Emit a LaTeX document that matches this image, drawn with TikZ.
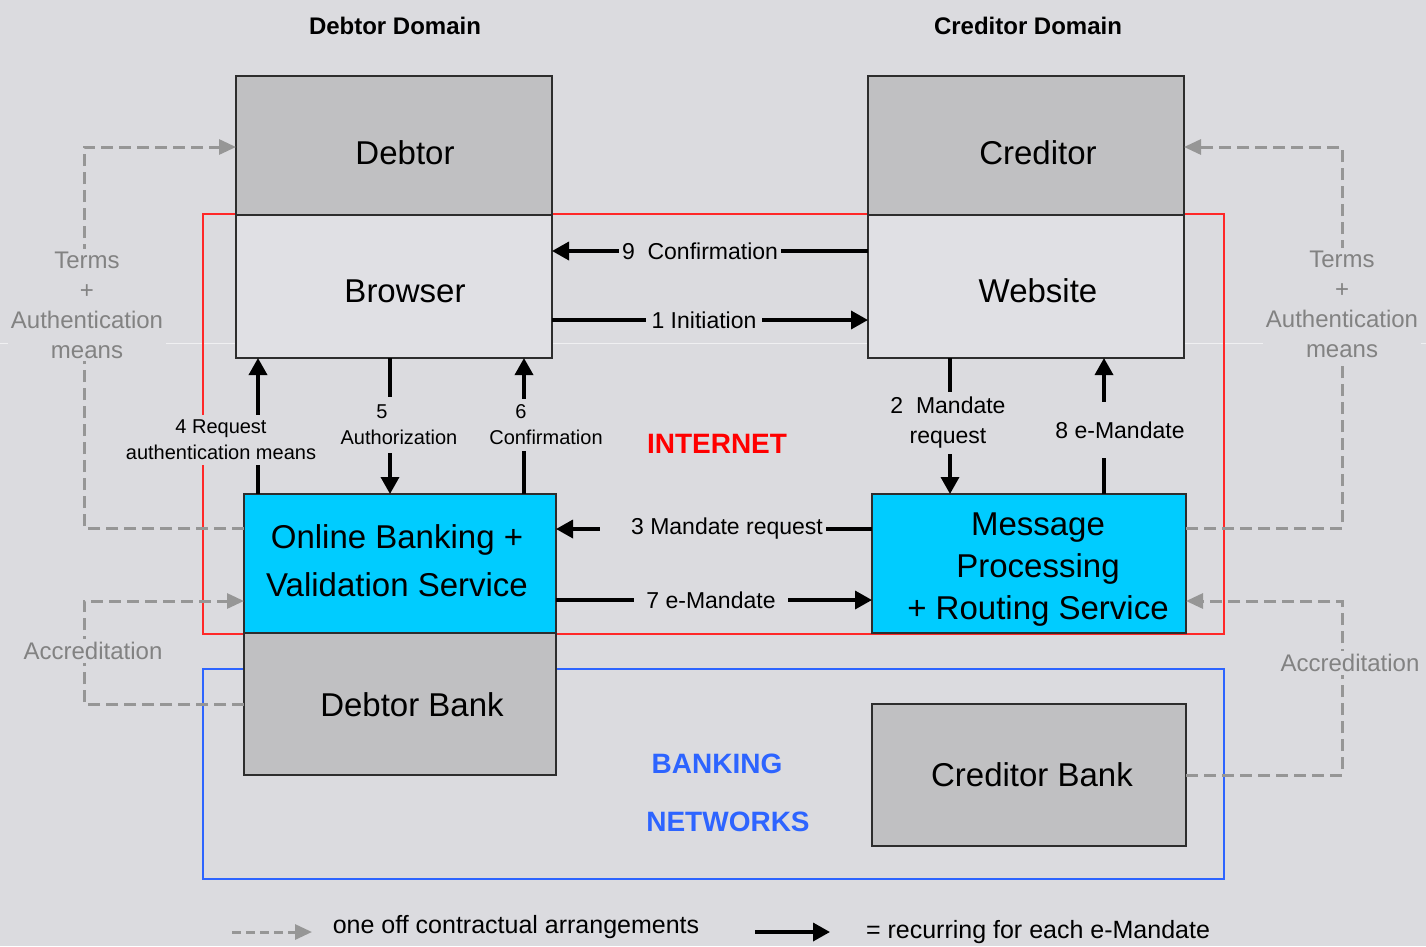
\documentclass[tikz,border=0pt]{standalone}
\usepackage{fontspec}
\setmainfont{Liberation Sans}
\usetikzlibrary{arrows.meta}
\definecolor{bg}{RGB}{219,219,223}
\definecolor{boxgray}{RGB}{192,192,194}
\definecolor{boxlight}{RGB}{224,224,228}
\definecolor{boxline}{RGB}{45,45,45}
\definecolor{cyanbox}{RGB}{0,204,255}
\definecolor{redline}{RGB}{255,40,40}
\definecolor{blueline}{RGB}{45,100,255}
\definecolor{dashgray}{RGB}{150,150,150}
\definecolor{txtgray}{RGB}{130,130,130}
\begin{document}
\begin{tikzpicture}[x=1pt,y=-1pt,
 gbox/.style={draw=boxline,line width=2.5pt,fill=boxgray,inner sep=0pt,outer sep=0pt},
 lbox/.style={gbox,fill=boxlight},
 cbox/.style={gbox,fill=cyanbox},
 bigtxt/.style={font=\fontsize{33}{42}\selectfont,align=center,inner sep=0pt},
 lbl/.style={font=\fontsize{23}{30}\selectfont,fill=bg,inner sep=3pt,align=center},
 smlbl/.style={font=\fontsize{20}{26}\selectfont,fill=bg,inner sep=3pt,align=center},
 grylbl/.style={font=\fontsize{24}{30}\selectfont,text=txtgray,fill=bg,inner sep=3pt,align=center},
 blk/.style={line width=3.5pt,black,-{Triangle[length=17pt,width=18pt]}},
 dsh/.style={line width=3pt,dashgray,dash pattern=on 12pt off 6pt},
 dsharr/.style={dsh,-{Triangle[length=17pt,width=15pt]}},
 hdr/.style={font=\fontsize{24}{28}\selectfont\bfseries},
 legtxt/.style={font=\fontsize{25}{30}\selectfont},
]
\useasboundingbox (0,0) rectangle (1426,946);
\fill[bg] (0,0) rectangle (1426,946);
\draw[white,opacity=0.6,line width=0.8pt] (0,343) -- (1426,343);

% zones
\draw[redline,line width=2.5pt] (203,214) rectangle (1224,634);
\draw[blueline,line width=2.5pt] (203,669) rectangle (1224,879);

% helper coordinates
\coordinate (xL) at (84,0);
\coordinate (xR) at (1342,0);
\coordinate (yA) at (0,147);
\coordinate (yT) at (0,528);
\coordinate (yC) at (0,601);
\coordinate (x4) at (258,0);
\coordinate (x5) at (390,0);
\coordinate (x6) at (524,0);
\coordinate (x2) at (950,0);
\coordinate (x8) at (1104,0);
\coordinate (y9) at (0,251);
\coordinate (y1) at (0,320);
\coordinate (y3) at (0,529);
\coordinate (y7) at (0,600);

% boxes
\node[gbox,minimum width=316pt,minimum height=139pt] (debtor) at (394,145.5) {};
\node[lbox,minimum width=316pt,minimum height=143pt] (browser) at (394,286.5) {};
\node[gbox,minimum width=316pt,minimum height=139pt] (creditor) at (1026,145.5) {};
\node[lbox,minimum width=316pt,minimum height=143pt] (website) at (1026,286.5) {};
\node[cbox,minimum width=312pt,minimum height=139pt] (online) at (400,563.5) {};
\node[gbox,minimum width=312pt,minimum height=142pt] (dbank) at (400,704) {};
\node[cbox,minimum width=314pt,minimum height=139pt] (msg) at (1029,563.5) {};
\node[gbox,minimum width=314pt,minimum height=142pt] (cbank) at (1029,775) {};

% dashed contractual arrows
\draw[dsharr] (online.west |- yT) -| (xL |- yA) -- (debtor.west |- yA);
\draw[dsharr] (dbank.west) -| (xL |- yC) -- (online.west |- yC);
\draw[dsharr] (msg.east |- yT) -| (xR |- yA) -- (creditor.east |- yA);
\draw[dsharr] (cbank.east) -| (xR |- yC) -- (msg.east |- yC);

% box texts
\node[bigtxt] (tdebtor) at (405,153) {Debtor};
\node[bigtxt] (tbrowser) at (405,291) {Browser};
\node[bigtxt] (tcreditor) at (1038,153) {Creditor};
\node[bigtxt] (twebsite) at (1038,291) {Website};
\node[bigtxt,font=\fontsize{33}{48}\selectfont] (tonline) at (397,561) {Online Banking +\\Validation Service};
\node[bigtxt] (tmsg) at (1038,570) {Message\\Processing\\+ Routing Service};
\node[bigtxt] (tdbank) at (412,705) {Debtor Bank};
\node[bigtxt] (tcbank) at (1032,775) {Creditor Bank};

% headers and zone labels
\node[hdr] (hd) at (395,26) {Debtor Domain};
\node[hdr] (hc) at (1028,26) {Creditor Domain};
\node[font=\fontsize{28}{32}\selectfont\bfseries,text=red] (inet) at (717,444) {INTERNET};
\node[font=\fontsize{28}{32}\selectfont\bfseries,text=blueline] (bank1) at (717,764) {BANKING};
\node[font=\fontsize{28}{32}\selectfont\bfseries,text=blueline] (bank2) at (728,822) {NETWORKS};

% recurring arrows
\draw[blk] (website.west |- y9) -- (browser.east |- y9);
\draw[blk] (browser.east |- y1) -- (website.west |- y1);
\draw[blk] (msg.west |- y3) -- (online.east |- y3);
\draw[blk] (online.east |- y7) -- (msg.west |- y7);
\draw[blk] (online.north -| x4) -- (browser.south -| x4);
\draw[blk] (browser.south -| x5) -- (online.north -| x5);
\draw[blk] (online.north -| x6) -- (browser.south -| x6);
\draw[blk] (website.south -| x2) -- (msg.north -| x2);
\draw[blk] (msg.north -| x8) -- (website.south -| x8);

% arrow labels
\node[lbl] (l9) at (700,251) {9\ \ Confirmation};
\node[lbl,inner xsep=6pt] (l1) at (704,320) {1 Initiation};
\node[lbl] (l3) at (713,529) {\hspace*{28pt}3 Mandate request};
\node[lbl,inner xsep=12pt] (l7) at (711,600) {7 e-Mandate};
\node[smlbl,inner ysep=5pt] (l4) at (221,440) {4 Request\\authentication means};
\node[smlbl,inner ysep=8pt] (l5) at (399,425) {5\hspace*{34pt}\\Authorization};
\node[smlbl,inner ysep=6pt] (l6) at (546,425) {6\hspace*{50pt}\\Confirmation};
\node[lbl,inner ysep=5pt] (l2) at (948,423) {2\ \ Mandate\\request};
\node[lbl,inner ysep=20pt] (l8) at (1120,430) {8 e-Mandate};

% gray labels
\node[grylbl] (tl) at (87,305) {Terms\\+\\Authentication\\means};
\node[grylbl] (tr) at (1342,304) {Terms\\+\\Authentication\\means};
\node[grylbl] (al) at (93,651) {Accreditation};
\node[grylbl] (ar) at (1350,663) {Accreditation};

% legend
\coordinate (lga) at (232,932);
\coordinate (lgb) at (312,932);
\coordinate (lgc) at (755,932);
\coordinate (lgd) at (830,932);
\draw[dsharr,dash pattern=on 9pt off 5pt] (lga) -- (lgb);
\node[legtxt] (lgt1) at (516,927) {one off contractual arrangements};
\draw[blk] (lgc) -- (lgd);
\node[legtxt] (lgt2) at (1038,932) {= recurring for each e-Mandate};
\end{tikzpicture}
\end{document}
